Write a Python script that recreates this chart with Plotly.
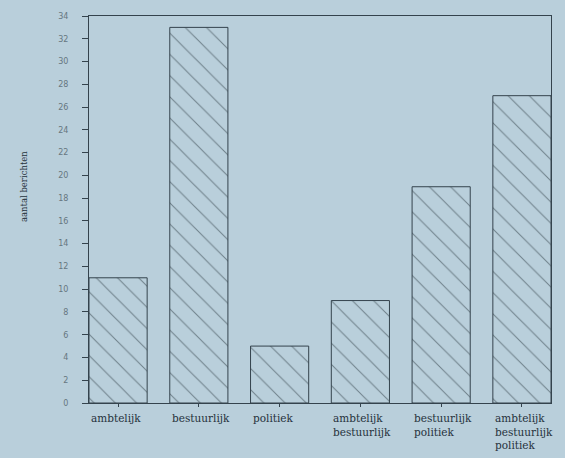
import plotly.graph_objects as go

categories = ["ambtelijk", "bestuurlijk", "politiek",
              "ambtelijk<br>bestuurlijk", "bestuurlijk<br>politiek",
              "ambtelijk<br>bestuurlijk<br>politiek"]
values = [11, 33, 5, 9, 19, 27]
y_ticks = list(range(0, 35, 2))
y_title = "aantal berichten"

BG = "#b9cfdb"
INK = "#34434d"
HATCH = "#27343d"
BW = 0.72
W, H = 565, 458
ML, MR, MT, MB = 89, 14, 14, 55

x = list(range(len(categories)))

fig = go.Figure()
fig.add_trace(go.Bar(
    x=x, y=values, width=BW,
    marker=dict(
        color=BG,
        line=dict(color=INK, width=1),
        pattern=dict(shape="\\", fgcolor=HATCH, bgcolor=BG, size=15, solidity=0.07),
    ),
    hoverinfo="skip",
))

for i, lab in enumerate(categories):
    fig.add_annotation(
        x=i - BW / 2, y=0, xref="x", yref="paper",
        xanchor="left", yanchor="top", yshift=-7, align="left",
        text=lab, showarrow=False,
        font=dict(family="DejaVu Serif", size=10.5, color="#26323b"),
    )

fig.add_annotation(
    x=(17 - ML) / (W - ML - MR), y=(H - MB - 186) / (H - MT - MB),
    xref="paper", yref="paper", text=y_title, showarrow=False,
    textangle=-90, font=dict(family="DejaVu Serif", size=8.5, color="#26323b"),
)

fig.update_layout(
    width=W, height=H,
    margin=dict(l=ML, r=MR, t=MT, b=MB),
    paper_bgcolor=BG, plot_bgcolor=BG,
    showlegend=False,
    xaxis=dict(
        range=[-BW / 2, len(categories) - 1 + BW / 2],
        tickvals=x, ticktext=[""] * len(x),
        ticks="outside", ticklen=3, tickcolor=INK, tickwidth=1,
        showgrid=False, zeroline=False,
        showline=True, linecolor=INK, linewidth=1, mirror=True,
    ),
    yaxis=dict(
        range=[0, 34], tickvals=y_ticks,
        ticks="outside", ticklen=6, tickcolor=INK, tickwidth=1,
        ticklabelstandoff=12,
        tickfont=dict(family="DejaVu Sans", size=8, color="#66767f"),
        showgrid=False, zeroline=False,
        showline=True, linecolor=INK, linewidth=1, mirror=True,
    ),
)

fig.write_html(
    "out.html",
    config={"displayModeBar": False},
    post_script="document.body.style.margin='0';document.body.style.background='%s';" % BG,
)
